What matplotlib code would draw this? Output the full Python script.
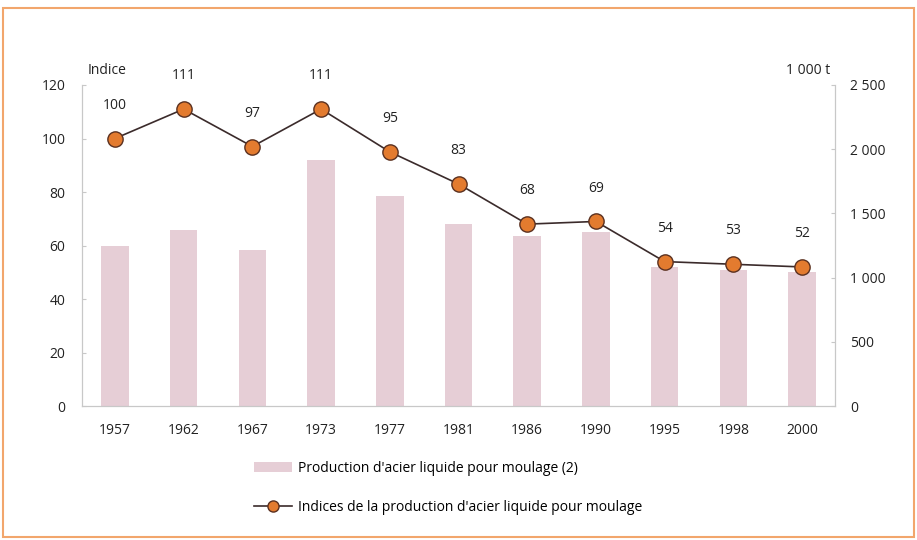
import matplotlib.pyplot as plt
from matplotlib.patches import Rectangle, Patch
from matplotlib.lines import Line2D
from matplotlib.ticker import FuncFormatter

years = ["1957", "1962", "1967", "1973", "1977", "1981", "1986", "1990", "1995", "1998", "2000"]
production = [1250, 1370, 1215, 1915, 1635, 1420, 1325, 1355, 1080, 1060, 1045]
indices = [100, 111, 97, 111, 95, 83, 68, 69, 54, 53, 52]

plt.rcParams["font.family"] = ["Open Sans", "DejaVu Sans"]
plt.rcParams["font.size"] = 10

BAR_COLOR = "#e6ced6"
DOT_COLOR = "#e37b2f"
LINE_COLOR = "#3b2b2b"
AXIS_COLOR = "#c8c8c8"
TEXT_COLOR = "#222222"


def thousands(v, pos):
    return f"{int(v):,}".replace(",", " ")


fig = plt.figure(figsize=(9.17, 5.4), dpi=100)
ax = fig.add_axes([0.0894, 0.248, 0.8212, 0.5946])
ax2 = ax.twinx()

x = list(range(len(years)))
ax2.bar(x, production, width=0.4, color=BAR_COLOR, zorder=1)
ax.plot(x, indices, color=LINE_COLOR, linewidth=1.2, marker="o", markersize=11,
        markerfacecolor=DOT_COLOR, markeredgecolor="#5a3020", markeredgewidth=1.0, zorder=3)
for xi, v in zip(x, indices):
    ax.annotate(str(v), (xi, v), xytext=(0, 24), textcoords="offset points",
                ha="center", va="center", color=TEXT_COLOR, fontsize=10)

ax.set_zorder(ax2.get_zorder() + 1)
ax.patch.set_visible(False)

ax.set_xlim(-0.48, len(years) - 0.52)
ax.set_ylim(0, 120)
ax.set_yticks(range(0, 121, 20))
ax2.set_ylim(0, 2500)
ax2.set_yticks(range(0, 2501, 500))
ax2.yaxis.set_major_formatter(FuncFormatter(thousands))
ax.set_xticks(x)
ax.set_xticklabels(years)

for a in (ax, ax2):
    a.spines["top"].set_visible(False)
    a.spines["left"].set_color(AXIS_COLOR)
    a.spines["right"].set_color(AXIS_COLOR)
    a.spines["bottom"].set_color(AXIS_COLOR)
    a.tick_params(axis="y", colors=AXIS_COLOR, labelcolor=TEXT_COLOR, length=3, direction="in")
ax.tick_params(axis="y", pad=12)
ax.tick_params(axis="x", length=0, pad=12, labelcolor=TEXT_COLOR)
ax2.tick_params(axis="y", pad=11)

fig.text(88 / 917, 1 - 70 / 540, "Indice", ha="left", va="center", fontsize=10, color=TEXT_COLOR)
fig.text(830 / 917, 1 - 70 / 540, "1 000 t", ha="right", va="center", fontsize=10, color=TEXT_COLOR)

handles = [
    Patch(facecolor=BAR_COLOR, edgecolor="none"),
    Line2D([], [], color=LINE_COLOR, linewidth=1.2, marker="o", markersize=8,
           markerfacecolor=DOT_COLOR, markeredgecolor="#5a3020"),
]
labels = ["Production d'acier liquide pour moulage (2)",
          "Indices de la production d'acier liquide pour moulage"]
fig.legend(handles, labels, loc="center left", bbox_to_anchor=(241 / 917, 1 - 488 / 540),
           frameon=False, labelspacing=1.75, handlelength=2.8, handletextpad=0.4, fontsize=10)

fig.patches.append(Rectangle((3 / 917, 3 / 540), 911 / 917, 529 / 540, transform=fig.transFigure,
                             fill=False, edgecolor="#f2a66c", linewidth=1.5))

plt.savefig("out.png", dpi=100)
